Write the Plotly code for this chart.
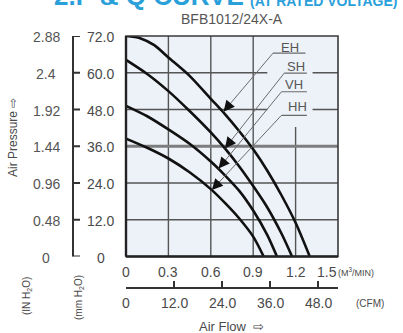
import plotly.graph_objects as go

W, H = 403, 333

# ---------------- data ----------------
EH_flow = [0, 0.1, 0.2, 0.3, 0.45, 0.6, 0.7, 0.8, 0.9, 1.0, 1.1, 1.2, 1.3]
EH_pres = [72, 71.3, 69, 65, 59, 51.5, 46.5, 41, 35, 28, 20, 11, 0]
SH_flow = [0, 0.15, 0.3, 0.45, 0.6, 0.7, 0.8, 0.9, 1.0, 1.1, 1.175]
SH_pres = [64.2, 59.6, 54, 47.5, 40.5, 35.3, 29.5, 23, 16, 7.5, 0]
VH_flow = [0, 0.15, 0.3, 0.45, 0.6, 0.7, 0.8, 0.9, 1.0, 1.068]
VH_pres = [49.2, 45.8, 41.5, 36.8, 31, 26.5, 21.5, 15, 7, 0]
HH_flow = [0, 0.15, 0.3, 0.45, 0.6, 0.7, 0.8, 0.9, 0.974]
HH_pres = [38.5, 35.5, 32, 27.5, 22, 17.5, 12.5, 6.5, 0]

curve_names = ["EH", "SH", "VH", "HH"]
# arrow tips on curves and leader (underline) start / end, label centre
tip_flow = [0.69, 0.70, 0.655, 0.607]
tip_pres = [47.3, 35.3, 28.7, 21.7]
lead_flow = [1.04, 1.12, 1.10, 1.10]
lead_pres = [66.4, 59.9, 53.8, 46.1]
under_end_flow = [1.27, 1.28, 1.28, 1.28]
label_flow = [1.16, 1.20, 1.19, 1.21]
label_pres = [68.4, 62.2, 56.2, 48.9]

flow_ticks = [0, 0.3, 0.6, 0.9, 1.2, 1.5]
flow_tick_text = ["0", "0.3", "0.6", "0.9", "1.2", "1.5"]
cfm_ticks = [0, 12, 24, 36, 48]
cfm_tick_text = ["0", "12.0", "24.0", "36.0", "48.0"]
mm_ticks = [0, 12, 24, 36, 48, 60, 72]
mm_tick_text = ["0", "12.0", "24.0", "36.0", "48.0", "60.0", "72.0"]
inch_tick_text = ["0", "0.48", "0.96", "1.44", "1.92", "2.4", "2.88"]
CFM_PER_M3MIN = 35.315

grid_flow = [0.3, 0.6, 0.9, 1.2]
grid_pres = [12, 24, 36, 48, 60]

# ---------------- layout geometry (pixels) ----------------
PL, PR, PT, PB = 126, 338, 36, 256.5
BRACKET_X = 73
BRACKET_TICK = 7


def px(x):
    return x / W


def py(y):
    return 1 - y / H


FONT = "Liberation Sans, Arial, sans-serif"
GREY = "#4a4a4a"

fig = go.Figure()

for fl, pr in zip([EH_flow, SH_flow, VH_flow, HH_flow], [EH_pres, SH_pres, VH_pres, HH_pres]):
    fig.add_trace(go.Scatter(x=fl, y=pr, mode="lines",
                             line=dict(color="#111111", width=2.6, shape="spline", smoothing=0.8),
                             showlegend=False, hoverinfo="skip", cliponaxis=True))

shapes = []
gap_flow = (1.0, 1.32)
for g in grid_flow:
    y1 = 42.3 if g == 1.2 else 72
    shapes.append(dict(type="line", xref="x", yref="y", x0=g, x1=g, y0=0, y1=y1,
                       line=dict(color="#555555", width=1.4), layer="below"))
for g in grid_pres:
    if g == 36:
        shapes.append(dict(type="line", xref="x", yref="y", x0=0, x1=1.5, y0=g, y1=g,
                           line=dict(color="#7d7d7d", width=3), layer="below"))
    elif g in (48, 60):
        for a, b in [(0, gap_flow[0]), (gap_flow[1], 1.5)]:
            shapes.append(dict(type="line", xref="x", yref="y", x0=a, x1=b, y0=g, y1=g,
                               line=dict(color="#555555", width=1.4), layer="below"))
    else:
        shapes.append(dict(type="line", xref="x", yref="y", x0=0, x1=1.5, y0=g, y1=g,
                           line=dict(color="#555555", width=1.4), layer="below"))
shapes.append(dict(type="rect", xref="x domain", yref="y domain", x0=0, x1=1, y0=0, y1=1,
                   line=dict(color="#3a3a3a", width=1.6)))
shapes.append(dict(type="line", xref="x domain", yref="y domain", x0=0, x1=0, y0=0, y1=1,
                   line=dict(color="#222222", width=2.4)))
shapes.append(dict(type="line", xref="x domain", yref="y domain", x0=0, x1=1, y0=0, y1=0,
                   line=dict(color="#222222", width=2.4)))
for i in range(4):
    shapes.append(dict(type="line", xref="x", yref="y", x0=tip_flow[i], y0=tip_pres[i],
                       x1=lead_flow[i], y1=lead_pres[i], line=dict(color="#6a6a6a", width=1)))
    shapes.append(dict(type="line", xref="x", yref="y", x0=lead_flow[i], y0=lead_pres[i],
                       x1=under_end_flow[i], y1=lead_pres[i], line=dict(color="#6a6a6a", width=1.2)))

# mm H2O bracket axis (line + inward ticks)
shapes.append(dict(type="line", xref="paper", yref="y", x0=px(BRACKET_X), x1=px(BRACKET_X),
                   y0=mm_ticks[0], y1=mm_ticks[-1], line=dict(color="#333333", width=2)))
for v in mm_ticks:
    shapes.append(dict(type="line", xref="paper", yref="y", x0=px(BRACKET_X - 1),
                       x1=px(BRACKET_X + BRACKET_TICK), y0=v, y1=v,
                       line=dict(color="#333333", width=2)))

ann = []


def text(x, y, t, size, color=GREY, xref="paper", yref="paper", **kw):
    d = dict(xref=xref, yref=yref, x=x, y=y, text=t, showarrow=False,
             xanchor="center", yanchor="middle",
             font=dict(family=FONT, size=size, color=color))
    d.update(kw)
    ann.append(d)


for i, name in enumerate(curve_names):
    text(label_flow[i], label_pres[i], name, 13, "#555555", xref="x", yref="y")
    ax = tip_flow[i] + 0.13 * (lead_flow[i] - tip_flow[i])
    ay = tip_pres[i] + 0.13 * (lead_pres[i] - tip_pres[i])
    ann.append(dict(xref="x", yref="y", x=tip_flow[i], y=tip_pres[i], axref="x", ayref="y",
                    ax=ax, ay=ay, text="", showarrow=True, arrowhead=2, arrowsize=1,
                    arrowwidth=2.2, arrowcolor="#111111"))

for v, t in zip(flow_ticks, flow_tick_text):
    text(v, py(272), t, 14, xref="x", xshift=-11 if v == 1.5 else 0)
text(px(336), py(272), "(M<sup>3</sup>/MIN)", 9, xanchor="left")
for v, t in zip(cfm_ticks, cfm_tick_text):
    text(v, py(303), t, 14, xref="x2")
text(px(370), py(303), "(CFM)", 10)
for v, t, ti in zip(mm_ticks, mm_tick_text, inch_tick_text):
    text(px(101), v, t, 14, yref="y", yshift=-1)
    text(px(46), v, ti, 14, "#555555", yref="y", yshift=-1)

text(px(13), py(138), "Air Pressure \u21e8", 12, textangle=-90)
text(px(27), py(296), "(IN H<sub>2</sub>O)", 10, textangle=-90)
text(px(79), py(298), "(mm H<sub>2</sub>O)", 10, textangle=-90)
text(px(231), py(326), "Air Flow  \u21e8", 13)

text(px(246), py(13), "<b>2.P &amp; Q CURVE</b>", 26, "#2aa0da", xanchor="right", yanchor="bottom")
text(px(248), py(11), "<b>(AT RATED VOLTAGE)</b>", 14, "#2aa0da", xanchor="left", yanchor="bottom")
text(px(232), py(19), "BFB1012/24X-A", 14, "#555555")

fig.update_layout(
    width=W, height=H,
    margin=dict(l=0, r=0, t=0, b=0),
    paper_bgcolor="white",
    plot_bgcolor="#edf2f9",
    showlegend=False,
    xaxis=dict(domain=[px(PL), px(PR)], range=[0, 1.5], showgrid=False, zeroline=False,
               showticklabels=False, ticks="", fixedrange=True),
    yaxis=dict(domain=[py(PB), py(PT)], range=[0, 72], showgrid=False, zeroline=False,
               showticklabels=False, ticks="", fixedrange=True),
    xaxis2=dict(overlaying="x", anchor="free", position=py(288), side="bottom",
                range=[0, 1.5 * CFM_PER_M3MIN], showline=True, linecolor="#333333", linewidth=2,
                ticks="inside", ticklen=6, tickwidth=2, tickcolor="#333333",
                tickvals=cfm_ticks, showticklabels=False, showgrid=False, zeroline=False),
    shapes=shapes,
    annotations=ann,
)

fig.write_html("out.html", config={"displayModeBar": False},
               post_script="document.body.style.margin='0';document.body.style.overflow='hidden';")
